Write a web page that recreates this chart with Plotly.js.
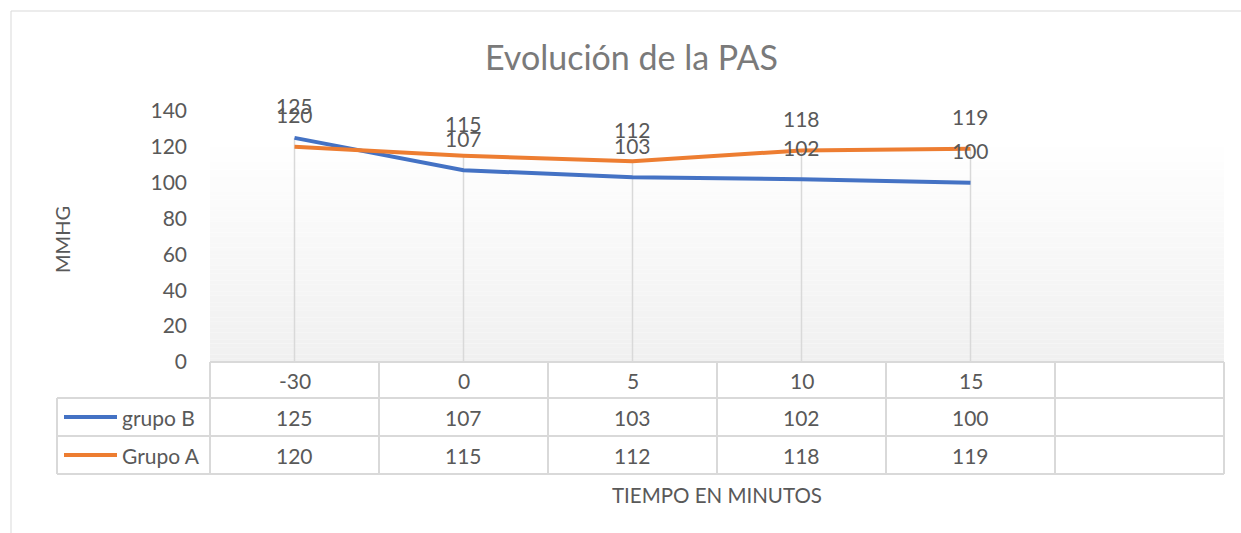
<!DOCTYPE html>
<html>
<head>
<meta charset="utf-8">
<script src="https://cdn.plot.ly/plotly-3.0.1.min.js"></script>
<style>html,body{margin:0;padding:0;background:#fff;}#chart{width:1241px;height:533px;}</style>
</head>
<body>
<div id="chart"></div>
<script>
// ---- data ----
const categories = ['-30', '0', '5', '10', '15', ''];
const seriesNames = ['grupo B', 'Grupo A'];
const grupoB = [125, 107, 103, 102, 100];
const grupoA = [120, 115, 112, 118, 119];
const yTickValues = [0, 20, 40, 60, 80, 100, 120, 140];
const titleText = 'Evolución de la PAS';
const yTitleText = 'MMHG';
const xTitleText = 'TIEMPO EN MINUTOS';

// ---- styling ----
const W = 1241, H = 533;
const PL = 210, PR = 1224, PT = 111, PB = 362;
const FONT = 'Lato, "Open Sans", sans-serif';
const TXT = '#595959';
const GRID = '#d9d9d9';
const BLUE = '#4472C4', ORANGE = '#ED7D31';
const FS = 21;

const px = v => (v - PL) / (PR - PL);
const py = v => (PB - v) / (PB - PT);

const idx = grupoB.map((_, i) => i);

// drop lines from highest point to axis
const dropX = [], dropY = [];
idx.forEach(i => { dropX.push(i, i, null); dropY.push(Math.max(grupoB[i], grupoA[i]), 0, null); });

const traces = [
  {x: dropX, y: dropY, mode: 'lines', line: {color: GRID, width: 1.5}, hoverinfo: 'skip', showlegend: false},
  {x: idx, y: grupoB, name: seriesNames[0], mode: 'lines', line: {color: BLUE, width: 4}, showlegend: false},
  {x: idx, y: grupoA, name: seriesNames[1], mode: 'lines', line: {color: ORANGE, width: 4}, showlegend: false}
];

const annotations = [];
// data labels
[[grupoB], [grupoA]].forEach(([s]) => {
  s.forEach((v, i) => annotations.push({x: i, y: v, xref: 'x', yref: 'y', text: String(v), showarrow: false,
    yshift: 32, font: {family: FONT, size: FS, color: TXT}}));
});

// table geometry
const colEdges = categories.map((_, i) => PL + (PR - PL) * i / categories.length).concat([PR]);
const rowHeader = [362, 398], rowB = [398, 436], rowA = [436, 474];
const legendLeft = 57;

const shapes = [];
// chart border
shapes.push({type: 'rect', xref: 'paper', yref: 'paper', x0: px(11), x1: px(1260), y0: py(11), y1: py(560),
  line: {color: GRID, width: 1}, fillcolor: 'rgba(0,0,0,0)', layer: 'below'});
// gradient background (plot area)
const NB = 60, gTop = 140;
for (let k = 0; k < NB; k++) {
  const t0 = gTop + (PB - gTop) * k / NB, t1 = gTop + (PB - gTop) * (k + 1) / NB;
  const f = (k + 0.5) / NB;
  const c = Math.round(255 - (255 - 240) * f);
  shapes.push({type: 'rect', xref: 'paper', yref: 'paper', x0: 0, x1: 1, y0: py(t1), y1: py(t0),
    line: {width: 0}, fillcolor: `rgb(${c},${c},${c})`, layer: 'below'});
}
const hline = (x0, x1, y) => shapes.push({type: 'line', xref: 'paper', yref: 'paper', x0: px(x0), x1: px(x1), y0: py(y), y1: py(y), line: {color: GRID, width: 2}});
const vline = (x, y0, y1) => shapes.push({type: 'line', xref: 'paper', yref: 'paper', x0: px(x), x1: px(x), y0: py(y0), y1: py(y1), line: {color: GRID, width: 2}});
hline(PL, PR, rowHeader[0]);
hline(legendLeft, PR, rowB[0]);
hline(legendLeft, PR, rowA[0]);
hline(legendLeft, PR, rowA[1]);
colEdges.forEach(x => vline(x, rowHeader[0], rowA[1]));
vline(legendLeft, rowB[0], rowA[1]);
// legend keys
[[rowB, BLUE], [rowA, ORANGE]].forEach(([r, c]) => {
  const ym = (r[0] + r[1]) / 2;
  shapes.push({type: 'line', xref: 'paper', yref: 'paper', x0: px(64), x1: px(117), y0: py(ym), y1: py(ym), line: {color: c, width: 4}});
});

// table texts
const cellText = (x, y, text, xanchor) => annotations.push({xref: 'paper', yref: 'paper', x: px(x), y: py(y), text: text,
  showarrow: false, xanchor: xanchor || 'center', yanchor: 'middle', font: {family: FONT, size: FS, color: TXT}});
categories.forEach((c, i) => {
  const cx = (colEdges[i] + colEdges[i + 1]) / 2;
  if (c !== '') cellText(cx, (rowHeader[0] + rowHeader[1]) / 2, c);
  if (i < grupoB.length) cellText(cx, (rowB[0] + rowB[1]) / 2, String(grupoB[i]));
  if (i < grupoA.length) cellText(cx, (rowA[0] + rowA[1]) / 2, String(grupoA[i]));
});
cellText(120, (rowB[0] + rowB[1]) / 2, seriesNames[0], 'left');
cellText(120, (rowA[0] + rowA[1]) / 2, seriesNames[1], 'left');

// axis titles
annotations.push({xref: 'paper', yref: 'paper', x: px(62), y: py(240), text: yTitleText, textangle: -90, showarrow: false,
  xanchor: 'center', yanchor: 'middle', font: {family: FONT, size: 20, color: TXT}});
annotations.push({xref: 'paper', yref: 'paper', x: px(717), y: py(495), text: xTitleText, showarrow: false,
  xanchor: 'center', yanchor: 'middle', font: {family: FONT, size: 20.5, color: TXT}});
// chart title
annotations.push({xref: 'paper', yref: 'paper', x: px(631), y: py(57), text: titleText, showarrow: false,
  xanchor: 'center', yanchor: 'middle', font: {family: FONT, size: 34, color: '#7a7a7a'}});

const layout = {
  width: W, height: H,
  margin: {l: PL, r: W - PR, t: PT, b: H - PB, pad: 0},
  paper_bgcolor: '#ffffff', plot_bgcolor: 'rgba(0,0,0,0)',
  showlegend: false,
  xaxis: {range: [-0.5, categories.length - 0.5], showticklabels: false, showgrid: false, zeroline: false, showline: false, ticks: '', fixedrange: true},
  yaxis: {range: [0, 140], tickvals: yTickValues, ticktext: yTickValues.map(String), showgrid: false, zeroline: false, showline: false,
    ticks: '', ticklabelstandoff: 22, tickfont: {family: FONT, size: FS, color: TXT}, fixedrange: true},
  shapes: shapes,
  annotations: annotations
};

Plotly.newPlot('chart', traces, layout, {displayModeBar: false, staticPlot: true});
</script>
</body>
</html>
